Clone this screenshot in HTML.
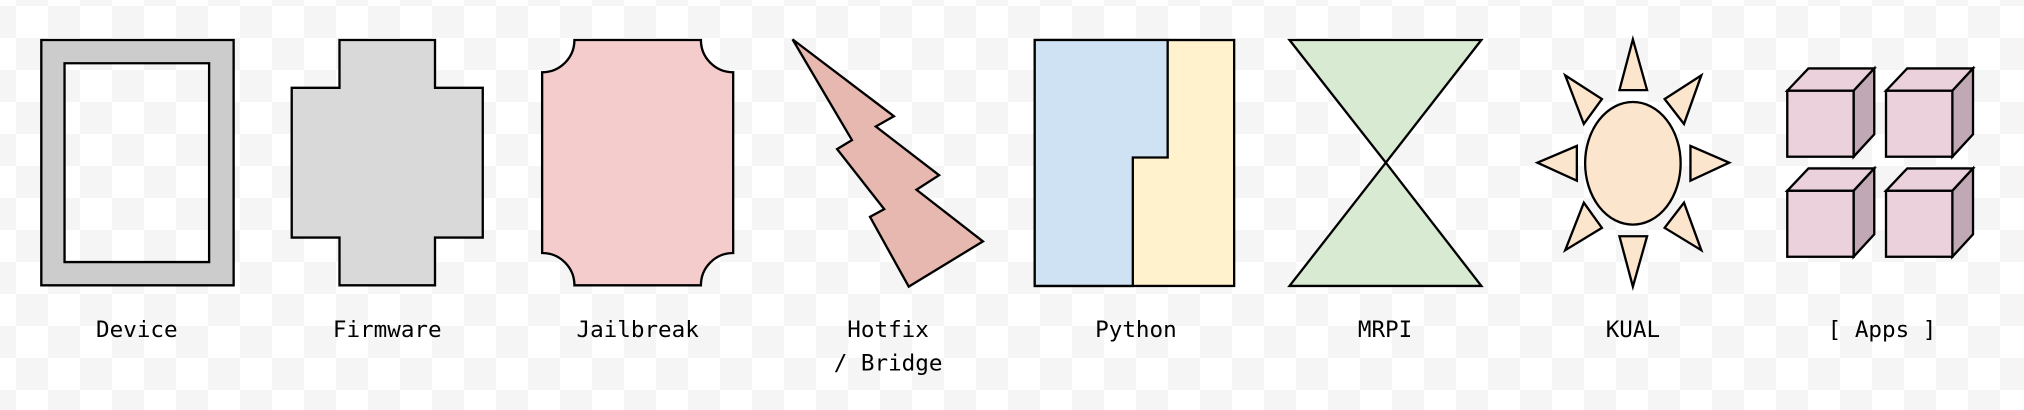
<!DOCTYPE html>
<html><head><style>
html,body{margin:0;padding:0;}
body{width:2024px;height:410px;overflow:hidden;background-color:#fff;
background-image:linear-gradient(45deg,#f5f5f5 25%,transparent 25%,transparent 75%,#f5f5f5 75%),linear-gradient(45deg,#f5f5f5 25%,transparent 25%,transparent 75%,#f5f5f5 75%);
background-size:64px 64px;background-position:16px 6px,48px 38px;}
svg{position:absolute;left:0;top:0;}
text{font-family:"DejaVu Sans Mono","Liberation Mono",monospace;font-size:17.5px;fill:#000;text-anchor:middle;}
</style></head><body>
<svg width="2024" height="410" viewBox="0 0 1568 317.6" preserveAspectRatio="none">
<g stroke="#000" stroke-width="1.8" stroke-linejoin="miter">
<path d="M32,31 H181 V221 H32 Z M50,49 V203 H162 V49 Z" fill="#cccccc" fill-rule="evenodd"/>
<path d="M263,31 H337 V68 H374 V184 H337 V221 H263 V184 H226 V68 H263 Z" fill="#d9d9d9"/>
<path d="M445,31 H543 A25,25 0 0 0 568,56 V196 A25,25 0 0 0 543,221 H445 A25,25 0 0 0 420,196 V56 A25,25 0 0 0 445,31 Z" fill="#f4cccc"/>
<polygon points="614,30.5 692.5,90 678.5,98 727.5,135.7 710,147 761.5,187 704,222 674,168 685,162 648.5,115.5 660,108.5" fill="#e6b8af"/>
<rect x="801.6" y="31" width="154.5" height="190.5" fill="#fff2cc"/>
<path d="M801.6,31 H904.6 V122 H877.6 V221.5 H801.6 Z" fill="#cfe2f3"/>
<polygon points="999,31 1147.6,31 1073.6,126 1147.6,221.5 999,221.5 1073.6,126" fill="#d9ead3"/>
<g fill="#fce5cd">
<ellipse cx="1265" cy="126.5" rx="37" ry="47.5"/>
<polygon points="1265,30.5 1254.6,69.8 1276,69.8"/>
<polygon points="1265,222 1254.6,183 1276,183"/>
<polygon points="1191,126 1221.6,113 1221.6,140"/>
<polygon points="1339.6,126 1309.6,113 1309.6,140"/>
<polygon points="1212.6,58.4 1241,76.7 1227,96"/>
<polygon points="1318,58.4 1289.6,76.7 1304.6,96"/>
<polygon points="1212.6,193.8 1241,176.5 1227,157"/>
<polygon points="1318,193.8 1289.6,176.5 1304.6,157"/>
</g>
<g id="c1">
<polygon points="1384.6,70.3 1401,53 1452,53 1436,70.3" fill="#ead1dc"/>
<polygon points="1436,70.3 1452,53 1452,104 1436,121.4" fill="#c0a9b4"/>
<rect x="1384.6" y="70.3" width="51.4" height="51.1" fill="#ead1dc"/>
</g>
<use href="#c1" x="76.5" y="0"/>
<use href="#c1" x="0" y="77.5"/>
<use href="#c1" x="76.5" y="77.5"/>
</g>
<text x="106" y="261">Device</text>
<text x="300" y="261">Firmware</text>
<text x="494" y="261">Jailbreak</text>
<text x="688" y="261">Hotfix</text>
<text x="688" y="287">/ Bridge</text>
<text x="880" y="261">Python</text>
<text x="1073" y="261">MRPI</text>
<text x="1265" y="261">KUAL</text>
<text x="1458" y="261">[ Apps ]</text>
</svg>
</body></html>
